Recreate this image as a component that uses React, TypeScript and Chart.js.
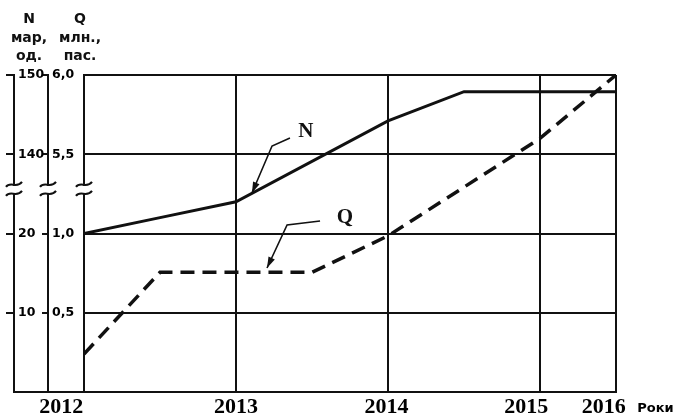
import React, { useEffect, useRef } from 'react';
import { Chart, registerables } from 'chart.js';

Chart.register(...registerables);

// x positions are in grid units: 2012 = 0, each full year = 1, last column (2015-2016) is half-width
const X_GRID = [0, 1, 2, 3, 3.5];
const YEAR_LABELS = ['2012', '2013', '2014', '2015', '2016', 'Роки'];
const YEAR_LABEL_POS = [-0.15, 1.0, 1.99, 2.91, 3.42, 3.76];

// y positions are in grid units of the broken axis: 0 = bottom, 1..4 = labelled gridlines
const Y_GRID = [0, 1, 2, 3, 4];
const TICK_POS = [1, 2, 3, 4];
const N_TICKS = ['10', '20', '140', '150'];
const Q_TICKS = ['0,5', '1,0', '5,5', '6,0'];
const N_TITLE = ['N', 'мар,', 'од.'];
const Q_TITLE = ['Q', 'млн.,', 'пас.'];
const BREAK_POS = 2.55;

// series N (solid) and Q (dashed)
const N_X = [0, 0.5, 1, 2, 2.5, 3.5];
const N_Y = [2, 2.2, 2.4, 3.42, 3.79, 3.79];
const Q_X = [0, 0.5, 1.5, 2, 3, 3.5];
const Q_Y = [0.48, 1.51, 1.51, 1.97, 3.2, 4.0];

// annotation labels with leader arrows (data units)
const N_NOTE = { text: 'N', x: 1.46, y: 3.28, path: [[1.355, 3.205], [1.237, 3.104], [1.105, 2.511]] };
const Q_NOTE = { text: 'Q', x: 1.717, y: 2.196, path: [[1.553, 2.158], [1.336, 2.107], [1.204, 1.565]] };

const INK = '#111';

const extras = {
  id: 'extras',
  afterDraw(chart: any) {
    const ctx = chart.ctx;
    const ca = chart.chartArea;
    const sx = chart.scales.x;
    const sy = chart.scales.yF;
    const yN = chart.scales.yN;
    const yQ = chart.scales.yQ;
    ctx.save();
    ctx.strokeStyle = INK;
    ctx.fillStyle = INK;

    // bottom line extended under the side axes
    ctx.lineWidth = 2;
    ctx.beginPath();
    ctx.moveTo(yN.right - 1, ca.bottom);
    ctx.lineTo(ca.left, ca.bottom);
    ctx.stroke();

    // axis break symbols
    const by = sy.getPixelForValue(BREAK_POS);
    [yN.right, yQ.right, ca.left].forEach((bx: number) => {
      ctx.fillStyle = '#fff';
      ctx.fillRect(bx - 3, by - 4, 6, 8);
      ctx.strokeStyle = INK;
      ctx.lineWidth = 2;
      [-5, 4].forEach((off) => {
        ctx.beginPath();
        ctx.moveTo(bx - 8, by + off + 2);
        ctx.bezierCurveTo(bx - 4, by + off - 4, bx + 3, by + off + 4, bx + 8, by + off - 3);
        ctx.stroke();
      });
    });

    // axis titles
    ctx.fillStyle = INK;
    ctx.font = 'bold 14px "DejaVu Sans"';
    ctx.textAlign = 'center';
    ctx.textBaseline = 'middle';
    const rows = [-56, -37, -19];
    N_TITLE.forEach((t, i) => ctx.fillText(t, yN.right + 15, ca.top + rows[i]));
    Q_TITLE.forEach((t, i) => ctx.fillText(t, yQ.right + 32, ca.top + rows[i]));

    // annotations with arrows
    [N_NOTE, Q_NOTE].forEach((note) => {
      ctx.font = 'bold 21px "Liberation Serif"';
      ctx.fillText(note.text, sx.getPixelForValue(note.x), sy.getPixelForValue(note.y));
      const pts = note.path.map(([x, y]) => [sx.getPixelForValue(x), sy.getPixelForValue(y)]);
      ctx.lineWidth = 1.6;
      ctx.beginPath();
      ctx.moveTo(pts[0][0], pts[0][1]);
      for (let i = 1; i < pts.length; i++) ctx.lineTo(pts[i][0], pts[i][1]);
      ctx.stroke();
      const [ax, ay] = pts[pts.length - 1];
      const [px, py] = pts[pts.length - 2];
      const ang = Math.atan2(ay - py, ax - px);
      const L = 11, W = 3.5;
      ctx.beginPath();
      ctx.moveTo(ax, ay);
      ctx.lineTo(ax - L * Math.cos(ang) + W * Math.sin(ang), ay - L * Math.sin(ang) - W * Math.cos(ang));
      ctx.lineTo(ax - L * Math.cos(ang) - W * Math.sin(ang), ay - L * Math.sin(ang) + W * Math.cos(ang));
      ctx.closePath();
      ctx.fill();
    });
    ctx.restore();
  },
};

export default function App() {
  const ref = useRef<HTMLCanvasElement>(null);
  useEffect(() => {
    const canvas = ref.current;
    if (!canvas) return;
    const tickFont = { family: 'DejaVu Sans', weight: 'bold' as const, size: 12.5 };
    const chart = new Chart(canvas, {
      type: 'line',
      data: {
        datasets: [
          {
            label: 'N',
            data: N_X.map((x, i) => ({ x, y: N_Y[i] })),
            borderColor: INK,
            borderWidth: 3,
            pointRadius: 0,
            tension: 0,
            fill: false,
            xAxisID: 'x',
            yAxisID: 'yF',
          },
          {
            label: 'Q',
            data: Q_X.map((x, i) => ({ x, y: Q_Y[i] })),
            borderColor: INK,
            borderWidth: 3.5,
            borderDash: [14, 8],
            pointRadius: 0,
            tension: 0,
            fill: false,
            xAxisID: 'x',
            yAxisID: 'yF',
          },
        ],
      },
      options: {
        responsive: false,
        animation: false,
        devicePixelRatio: 1,
        layout: { padding: { left: 0, right: 58, top: 75, bottom: 0 } },
        plugins: { legend: { display: false }, tooltip: { enabled: false } },
        scales: {
          x: {
            type: 'linear',
            position: 'bottom',
            min: 0,
            max: 3.5,
            weight: 1,
            afterBuildTicks: (s: any) => { s.ticks = X_GRID.map((v) => ({ value: v })); },
            afterFit: (s: any) => { s.height = 0; },
            grid: { color: INK, lineWidth: 2, drawTicks: false },
            border: { display: true, color: INK, width: 2 },
            ticks: { display: false },
          },
          xLab: {
            type: 'linear',
            position: 'bottom',
            min: 0,
            max: 3.5,
            weight: 2,
            afterBuildTicks: (s: any) => { s.ticks = YEAR_LABEL_POS.map((v) => ({ value: v })); },
            afterFit: (s: any) => { s.height = 26; },
            grid: { display: false, drawTicks: false },
            border: { display: false },
            ticks: {
              autoSkip: false,
              maxRotation: 0,
              padding: 2,
              color: '#000',
              callback: (_v: any, i: number) => YEAR_LABELS[i],
              font: (c: any) => (c.index === 5
                ? { family: 'DejaVu Sans', weight: 'bold', size: 13, lineHeight: 2.3 }
                : { family: 'Liberation Serif', weight: 'bold', size: 22 }),
            },
          },
          yF: {
            type: 'linear',
            position: 'left',
            min: 0,
            max: 4,
            weight: 1,
            afterBuildTicks: (s: any) => { s.ticks = Y_GRID.map((v) => ({ value: v })); },
            afterFit: (s: any) => { s.width = 36; },
            grid: { color: INK, lineWidth: 2, drawTicks: false },
            border: { display: true, color: INK, width: 2 },
            ticks: { display: false },
          },
          yQ: {
            type: 'linear',
            position: 'left',
            min: 0,
            max: 4,
            weight: 2,
            afterBuildTicks: (s: any) => { s.ticks = TICK_POS.map((v) => ({ value: v })); },
            afterFit: (s: any) => { s.width = 34; },
            grid: { drawOnChartArea: false, drawTicks: true, tickLength: 6, color: INK, lineWidth: 2 },
            border: { display: true, color: INK, width: 2 },
            ticks: { mirror: true, padding: 4, color: '#000', font: tickFont, callback: (_v: any, i: number) => Q_TICKS[i] },
          },
          yN: {
            type: 'linear',
            position: 'left',
            min: 0,
            max: 4,
            weight: 3,
            afterBuildTicks: (s: any) => { s.ticks = TICK_POS.map((v) => ({ value: v })); },
            afterFit: (s: any) => { s.width = 14; },
            grid: { drawOnChartArea: false, drawTicks: true, tickLength: 8, color: INK, lineWidth: 2 },
            border: { display: true, color: INK, width: 2 },
            ticks: { mirror: true, padding: 4, color: '#000', font: tickFont, callback: (_v: any, i: number) => N_TICKS[i] },
          },
        },
      } as any,
      plugins: [extras],
    });
    return () => chart.destroy();
  }, []);
  return (
    <div style={{ position: 'fixed', left: 0, top: 0, width: 674, height: 418, background: '#fff' }}>
      <canvas ref={ref} width={674} height={418} style={{ display: 'block', width: 674, height: 418 }} />
    </div>
  );
}
